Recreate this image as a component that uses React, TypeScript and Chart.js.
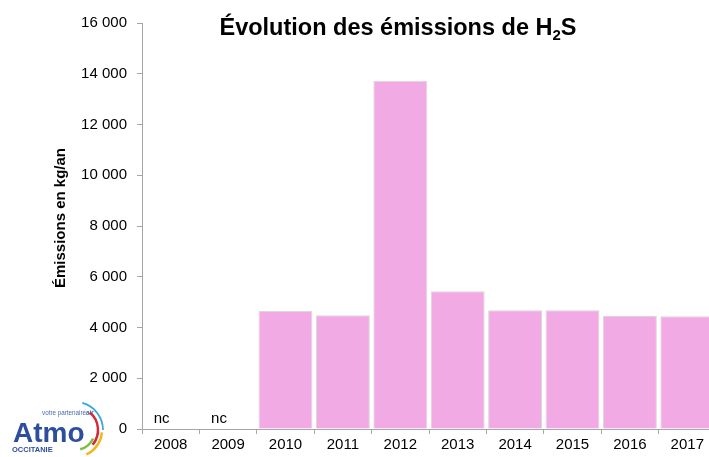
import { useEffect, useRef } from 'react';
import { Chart, registerables } from 'chart.js';

Chart.register(...registerables);

const years = ['2008', '2009', '2010', '2011', '2012', '2013', '2014', '2015', '2016', '2017'];
const emissions: (number | null)[] = [null, null, 4650, 4480, 13720, 5430, 4680, 4680, 4450, 4440];
const notReported: (string | null)[] = ['nc', 'nc', null, null, null, null, null, null, null, null];
const yMax = 16000;
const yStep = 2000;
const titleMain = 'Évolution des émissions de H';
const titleSub = '2';
const titleEnd = 'S';
const yTitle = 'Émissions en kg/an';

const FONT = '"Liberation Sans", Arial, sans-serif';
const AXIS = '#a6a6a6';

const fmt = (v: number) => {
  const s = Math.round(v).toString();
  return s.replace(/\B(?=(\d{3})+(?!\d))/g, ' ');
};

const overlay = {
  id: 'overlay',
  afterDraw(chart: any) {
    const ctx = chart.ctx as CanvasRenderingContext2D;
    const x = chart.scales.x;
    ctx.save();
    // title
    ctx.fillStyle = '#000';
    ctx.textBaseline = 'alphabetic';
    ctx.textAlign = 'left';
    const big = `bold 23.5px ${FONT}`;
    const small = `bold 15px ${FONT}`;
    ctx.font = big;
    const w1 = ctx.measureText(titleMain).width;
    const w3 = ctx.measureText(titleEnd).width;
    ctx.font = small;
    const w2 = ctx.measureText(titleSub).width;
    const total = w1 + w2 + w3;
    let tx = 398 - total / 2;
    const ty = 35;
    ctx.font = big;
    ctx.fillText(titleMain, tx, ty);
    tx += w1;
    ctx.font = small;
    ctx.fillText(titleSub, tx, ty + 5);
    tx += w2;
    ctx.font = big;
    ctx.fillText(titleEnd, tx, ty);

    // y title
    ctx.save();
    ctx.translate(61, 218);
    ctx.rotate(-Math.PI / 2);
    ctx.textAlign = 'center';
    ctx.textBaseline = 'middle';
    ctx.font = `bold 15px ${FONT}`;
    ctx.fillText(yTitle, 0, 0);
    ctx.restore();

    // nc labels
    ctx.font = `15px ${FONT}`;
    ctx.textAlign = 'left';
    ctx.textBaseline = 'alphabetic';
    notReported.forEach((t, i) => {
      if (!t) return;
      const cx = x.getPixelForValue(i);
      ctx.fillText(t, cx - 17, 423);
    });

    // logo
    ctx.fillStyle = '#2d4e9c';
    ctx.font = `bold 28px ${FONT}`;
    ctx.fillText('Atmo', 13, 442);
    ctx.font = `bold 7.5px ${FONT}`;
    ctx.fillText('OCCITANIE', 12, 452);
    ctx.font = `6.3px ${FONT}`;
    ctx.fillStyle = '#4a6cb0';
    ctx.fillText('votre partenaire', 42, 415);
    const wp = ctx.measureText('votre partenaire').width;
    ctx.font = `bold 6.3px ${FONT}`;
    ctx.fillText('air', 42 + wp, 415);
    const arcs: [number, number, number, string, number][] = [
      [28, -75, 0, '#38a8df', 1.8],
      [23, -50, 40, '#d8263a', 2.5],
      [27, 5, 65, '#f2b51c', 2.5],
      [20, 25, 75, '#7fbf3f', 2.5],
    ];
    arcs.forEach(([r, a0, a1, col, lw]) => {
      ctx.beginPath();
      ctx.strokeStyle = col;
      ctx.lineWidth = lw;
      ctx.arc(75, 430, r, (a0 * Math.PI) / 180, (a1 * Math.PI) / 180);
      ctx.stroke();
    });
    ctx.restore();
  },
};

export default function App() {
  const ref = useRef<HTMLCanvasElement | null>(null);
  useEffect(() => {
    if (!ref.current) return;
    const chart = new Chart(ref.current, {
      type: 'bar',
      data: {
        labels: years,
        datasets: [
          {
            data: emissions,
            backgroundColor: '#f2aae4',
            borderColor: '#d9d9d9',
            borderWidth: 1,
            barPercentage: 0.94,
            categoryPercentage: 1,
          },
        ],
      },
      options: {
        responsive: false,
        animation: false,
        layout: { padding: { top: 23, right: 0, bottom: 0, left: 0 } },
        plugins: { legend: { display: false }, tooltip: { enabled: false }, title: { display: false } },
        scales: {
          x: {
            offset: true,
            grid: { display: true, drawOnChartArea: false, drawTicks: true, tickLength: 5, color: AXIS, offset: true },
            border: { color: AXIS },
            ticks: { color: '#000', font: { family: FONT, size: 15 }, padding: 2, maxRotation: 0 },
            afterFit: (s: any) => {
              s.height = 28;
            },
          },
          y: {
            min: 0,
            max: yMax,
            grid: { display: true, drawOnChartArea: false, drawTicks: true, tickLength: 5, color: AXIS },
            border: { color: AXIS },
            ticks: {
              stepSize: yStep,
              color: '#000',
              font: { family: FONT, size: 15 },
              padding: 10,
              callback: (v: any) => fmt(Number(v)),
            },
            afterFit: (s: any) => {
              s.width = 142;
            },
          },
        },
      },
      plugins: [overlay],
    });
    return () => chart.destroy();
  }, []);
  return (
    <div style={{ position: 'fixed', left: 0, top: 0, width: 709, height: 457, overflow: 'hidden', background: '#fff' }}>
      <canvas ref={ref} width={716} height={457} style={{ width: 716, height: 457, display: 'block' }} />
    </div>
  );
}
